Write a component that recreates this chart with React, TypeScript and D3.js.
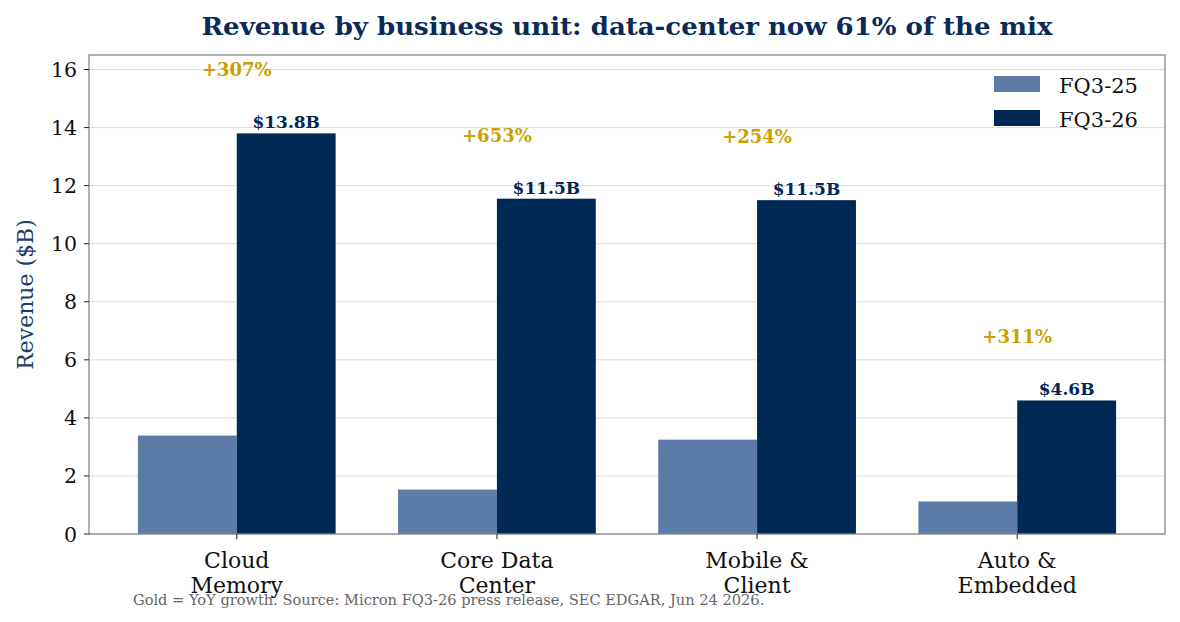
import * as d3 from 'd3';

const units = ['Cloud\nMemory', 'Core Data\nCenter', 'Mobile &\nClient', 'Auto &\nEmbedded'];
const fq325 = [3.39, 1.53, 3.25, 1.12];
const fq326 = [13.8, 11.55, 11.5, 4.6];
const growthLabels = ['+307%', '+653%', '+254%', '+311%'];
const valueLabels = ['$13.8B', '$11.5B', '$11.5B', '$4.6B'];
const yTicks = [0, 2, 4, 6, 8, 10, 12, 14, 16];
const seriesNames = ['FQ3-25', 'FQ3-26'];

const W = 1180;
const H = 622;
const M = { left: 89, right: 1165, top: 55, bottom: 534 };
const LIGHT = '#5b7ca8';
const DARK = '#002855';
const GOLD = '#c9a000';
const FONT = '"DejaVu Serif", serif';

export default function App() {
  const barW = 0.38;
  const x = d3.scaleLinear().domain([-0.568, 3.568]).range([M.left, M.right]);
  const y = d3.scaleLinear().domain([0, 16.5]).range([M.bottom, M.top]);
  const pw = x(barW) - x(0);

  return (
    <svg width={W} height={H} style={{ position: 'absolute', left: 0, top: 0, background: '#fff' }} fontFamily={FONT}>
      <text x={627} y={35} textAnchor="middle" fontSize={25} fontWeight="bold" fill="#0b2a55"
        fontFamily='"DejaVu Serif Condensed", "DejaVu Serif", serif' style={{ fontStretch: 'condensed' }}
        textLength={851} lengthAdjust="spacingAndGlyphs">
        Revenue by business unit: data-center now 61% of the mix
      </text>

      {/* grid */}
      {yTicks.map(t => (
        <line key={'g' + t} x1={M.left} x2={M.right} y1={y(t)} y2={y(t)} stroke="#dcdcdc" strokeWidth={1} />
      ))}

      {/* bars */}
      {units.map((u, i) => (
        <g key={u}>
          <rect x={x(i - barW)} y={y(fq325[i])} width={pw} height={y(0) - y(fq325[i])} fill={LIGHT} />
          <rect x={x(i)} y={y(fq326[i])} width={pw} height={y(0) - y(fq326[i])} fill={DARK} />
          <text x={x(i + barW / 2)} y={y(fq326[i]) - 5} textAnchor="middle" fontSize={17} fontWeight="bold" fill={DARK}>
            {valueLabels[i]}
          </text>
          <text x={x(i)} y={y(fq326[i] + 2) + 1} textAnchor="middle" fontSize={18} fontWeight="bold" fill={GOLD}>
            {growthLabels[i]}
          </text>
        </g>
      ))}

      {/* frame */}
      <rect x={M.left} y={M.top} width={M.right - M.left} height={M.bottom - M.top} fill="none" stroke="#888" strokeWidth={1.3} />

      {/* y axis */}
      {yTicks.map(t => (
        <g key={'y' + t}>
          <line x1={M.left - 5} x2={M.left} y1={y(t)} y2={y(t)} stroke="#222" />
          <text x={M.left - 12} y={y(t) + 7.5} textAnchor="end" fontSize={20.5} fill="#111">{t}</text>
        </g>
      ))}
      <text transform={`translate(33,${(M.top + M.bottom) / 2}) rotate(-90)`} textAnchor="middle" fontSize={22} fill="#1d3d6b">
        Revenue ($B)
      </text>

      {/* x axis */}
      {units.map((u, i) => (
        <g key={'x' + i}>
          <line x1={x(i)} x2={x(i)} y1={M.bottom} y2={M.bottom + 5} stroke="#222" />
          {u.split('\n').map((s, j) => (
            <text key={j} x={x(i)} y={568 + j * 25} textAnchor="middle" fontSize={22} fill="#111">{s}</text>
          ))}
        </g>
      ))}

      {/* legend */}
      {seriesNames.map((s, i) => (
        <g key={s}>
          <rect x={994} y={76 + i * 34} width={46} height={16} fill={i === 0 ? LIGHT : DARK} />
          <text x={1059} y={93 + i * 34} fontSize={21} fill="#111">{s}</text>
        </g>
      ))}

      <text x={133} y={605} fontSize={14.6} fill="#666">
        Gold = YoY growth. Source: Micron FQ3-26 press release, SEC EDGAR, Jun 24 2026.
      </text>
    </svg>
  );
}
